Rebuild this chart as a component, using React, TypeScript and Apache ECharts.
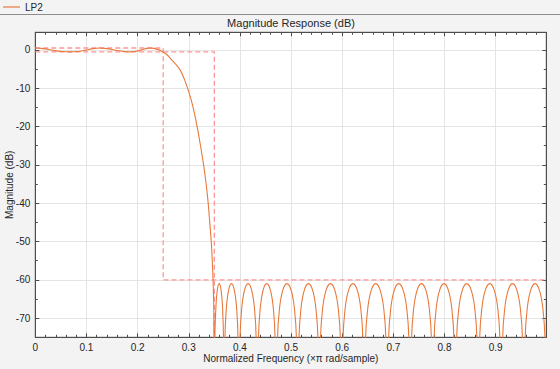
import React, { useEffect, useRef } from "react";
import * as echarts from "echarts";

// Frequency axis tick labels (×π rad/sample)
const xTickLabels = ["0", "0.1", "0.2", "0.3", "0.4", "0.5", "0.6", "0.7", "0.8", "0.9"];
const yTickLabels = ["-70", "-60", "-50", "-40", "-30", "-20", "-10", "0"];

// Magnitude response of LP2 (dB)
const passbandResponse: [number, number][] = [
  [0, 0.5], [0.015, 0.35], [0.035, -0.1], [0.052, -0.4], [0.067, -0.5], [0.082, -0.4],
  [0.098, -0.05], [0.113, 0.35], [0.126, 0.5], [0.14, 0.35], [0.155, 0], [0.172, -0.4],
  [0.185, -0.5], [0.197, -0.35], [0.21, 0.1], [0.218, 0.4], [0.225, 0.5], [0.232, 0.4],
  [0.24, 0.1], [0.245, -0.15],
];
const transitionResponse: [number, number][] = [
  [0.25, -0.6], [0.257, -1.2], [0.264, -2.2], [0.272, -3.4], [0.283, -5.2], [0.293, -8.2],
  [0.303, -12.2], [0.311, -16.5], [0.317, -20.5], [0.323, -25], [0.329, -30], [0.334, -35],
  [0.338, -40], [0.341, -45], [0.344, -50], [0.346, -55], [0.3475, -60], [0.349, -68],
];
const stopbandResponse: [number, number][] = [
  [0.350, -120], [0.3511, -75.5], [0.3529, -67.6], [0.3557, -62.8], [0.3595, -61], [0.3633, -62.8], [0.3662, -67.6], [0.3679, -75.5],
  [0.369, -120], [0.3707, -75.5], [0.3734, -67.6], [0.3777, -62.8], [0.3835, -61], [0.3893, -62.8], [0.3937, -67.6], [0.3963, -75.5],
  [0.398, -120], [0.4002, -75.5], [0.4034, -67.6], [0.4088, -62.8], [0.416, -61], [0.4232, -62.8], [0.4286, -67.6], [0.4318, -75.5],
  [0.434, -120], [0.4362, -75.5], [0.4396, -67.6], [0.4451, -62.8], [0.4525, -61], [0.4599, -62.8], [0.4655, -67.6], [0.4688, -75.5],
  [0.471, -120], [0.4735, -75.5], [0.4773, -67.6], [0.4836, -62.8], [0.492, -61], [0.5004, -62.8], [0.5067, -67.6], [0.5105, -75.5],
  [0.513, -120], [0.5155, -75.5], [0.5193, -67.6], [0.5256, -62.8], [0.534, -61], [0.5424, -62.8], [0.5487, -67.6], [0.5525, -75.5],
  [0.555, -120], [0.5576, -75.5], [0.5616, -67.6], [0.5682, -62.8], [0.577, -61], [0.5858, -62.8], [0.5924, -67.6], [0.5964, -75.5],
  [0.599, -120], [0.6016, -75.5], [0.6056, -67.6], [0.6122, -62.8], [0.621, -61], [0.6298, -62.8], [0.6364, -67.6], [0.6404, -75.5],
  [0.643, -120], [0.6457, -75.5], [0.6498, -67.6], [0.6565, -62.8], [0.6655, -61], [0.6745, -62.8], [0.6813, -67.6], [0.6853, -75.5],
  [0.688, -120], [0.6907, -75.5], [0.6948, -67.6], [0.7015, -62.8], [0.7105, -61], [0.7195, -62.8], [0.7263, -67.6], [0.7303, -75.5],
  [0.733, -120], [0.7356, -75.5], [0.7396, -67.6], [0.7462, -62.8], [0.755, -61], [0.7638, -62.8], [0.7704, -67.6], [0.7744, -75.5],
  [0.777, -120], [0.7796, -75.5], [0.7836, -67.6], [0.7902, -62.8], [0.799, -61], [0.8078, -62.8], [0.8144, -67.6], [0.8184, -75.5],
  [0.821, -120], [0.8237, -75.5], [0.8278, -67.6], [0.8345, -62.8], [0.8435, -61], [0.8525, -62.8], [0.8593, -67.6], [0.8633, -75.5],
  [0.866, -120], [0.8687, -75.5], [0.8728, -67.6], [0.8795, -62.8], [0.8885, -61], [0.8975, -62.8], [0.9043, -67.6], [0.9083, -75.5],
  [0.911, -120], [0.9136, -75.5], [0.9176, -67.6], [0.9242, -62.8], [0.933, -61], [0.9418, -62.8], [0.9484, -67.6], [0.9524, -75.5],
  [0.955, -120], [0.9576, -75.5], [0.9616, -67.6], [0.9682, -62.8], [0.977, -61], [0.9858, -62.8], [0.9924, -67.6], [0.9964, -75.5],
  [0.999, -120],
];

// Specification mask (dashed)
const maskUpper: [number, number][] = [[0, 0.5], [0.25, 0.5], [0.25, -60], [0.999, -60]];
const maskLower: [number, number][] = [[0, -0.5], [0.35, -0.5], [0.35, -75]];

const X_MIN = 0;
const X_MAX = 0.999;
const Y_MIN = -75;
const Y_MAX = 4.6;

const FONT = "Liberation Sans, Arial, Helvetica, sans-serif";
const TEXT = "#262626";
const AXIS = "#4d4d4d";

export default function App() {
  const ref = useRef<HTMLDivElement>(null);

  useEffect(() => {
    document.body.style.margin = "0";
    if (!ref.current) return;
    const chart = echarts.init(ref.current, undefined, { renderer: "svg" });

    const response = [...passbandResponse, ...transitionResponse, ...stopbandResponse];
    const xFmt = (v: number) => {
      const s = (Math.round(v * 10) / 10).toString();
      return Math.abs(v * 10 - Math.round(v * 10)) < 1e-6 && xTickLabels.includes(s) ? s : "";
    };
    const yFmt = (v: number) => {
      const s = String(Math.round(v));
      return Math.abs(v - Math.round(v)) < 1e-6 && yTickLabels.includes(s) ? s : "";
    };

    const baseX = {
      type: "value",
      min: X_MIN,
      max: X_MAX,
      interval: 0.1,
    };
    const baseY = {
      type: "value",
      min: Y_MIN,
      max: Y_MAX,
      minInterval: 10,
      maxInterval: 10,
      splitNumber: 8,
    };
    const tickStyle = {
      axisLine: { show: true, onZero: false, lineStyle: { color: AXIS, width: 1 } },
      axisTick: { show: true, inside: true, length: 4, lineStyle: { color: AXIS } },
    };

    chart.setOption({
      animation: false,
      backgroundColor: "#f3f3f3",
      textStyle: { fontFamily: FONT },
      title: {
        text: "Magnitude Response (dB)",
        left: 291,
        textAlign: "center",
        top: 17,
        padding: 0,
        textStyle: { fontFamily: FONT, fontSize: 11, fontWeight: "normal", color: TEXT },
      },
      legend: {
        data: ["LP2"],
        left: 3,
        top: 1,
        padding: 0,
        icon: "rect",
        itemWidth: 17,
        itemHeight: 1.2,
        itemGap: 5,
        textStyle: { fontFamily: FONT, fontSize: 10, color: TEXT, lineHeight: 12 },
      },
      graphic: [
        {
          type: "line",
          shape: { x1: 0, y1: 14.5, x2: 560, y2: 14.5 },
          style: { stroke: "#8c8c8c", lineWidth: 1 },
          silent: true,
        },
      ],
      grid: {
        left: 35.3,
        right: 13.7,
        top: 32.3,
        bottom: 31.7,
        containLabel: false,
        outerBoundsMode: "none",
        show: true,
        backgroundColor: "#ffffff",
        borderColor: AXIS,
        borderWidth: 1,
      },
      xAxis: [
        {
          ...baseX,
          ...tickStyle,
          position: "bottom",
          name: "Normalized Frequency (\u00d7\u03c0 rad/sample)",
          nameLocation: "middle",
          nameGap: 16,
          nameMoveOverlap: false,
          nameTextStyle: { fontFamily: FONT, fontSize: 10, color: TEXT },
          minorTick: { show: true, splitNumber: 5, length: 2.5, lineStyle: { color: AXIS } },
          axisLabel: { formatter: xFmt, fontFamily: FONT, fontSize: 10, color: TEXT, margin: 5, showMaxLabel: false },
          splitLine: { show: true, lineStyle: { color: "#e4e4e4", width: 1 } },
          minorSplitLine: { show: false },
        },
        {
          ...baseX,
          ...tickStyle,
          position: "top",
          minorTick: { show: true, splitNumber: 5, length: 2.5, lineStyle: { color: AXIS } },
          axisLabel: { show: false },
          splitLine: { show: false },
        },
      ],
      yAxis: [
        {
          ...baseY,
          ...tickStyle,
          position: "left",
          name: "Magnitude (dB)",
          nameLocation: "middle",
          nameGap: 21,
          nameMoveOverlap: false,
          nameTextStyle: { fontFamily: FONT, fontSize: 10, color: TEXT },
          minorTick: { show: true, splitNumber: 2, length: 2.5, lineStyle: { color: AXIS } },
          axisLabel: { formatter: yFmt, fontFamily: FONT, fontSize: 10, color: TEXT, margin: 5, showMinLabel: false, showMaxLabel: false },
          splitLine: { show: true, lineStyle: { color: "#e4e4e4", width: 1 } },
        },
        {
          ...baseY,
          ...tickStyle,
          position: "right",
          minorTick: { show: true, splitNumber: 2, length: 2.5, lineStyle: { color: AXIS } },
          axisLabel: { show: false },
          splitLine: { show: false },
        },
      ],
      series: [
        {
          name: "mask-upper",
          type: "line",
          xAxisIndex: 0,
          yAxisIndex: 0,
          data: maskUpper,
          symbol: "none",
          silent: true,
          lineStyle: { color: "#ff8585", width: 1.3, type: [5, 3], opacity: 0.85 },
          z: 3,
        },
        {
          name: "mask-lower",
          type: "line",
          xAxisIndex: 0,
          yAxisIndex: 0,
          data: maskLower,
          symbol: "none",
          silent: true,
          lineStyle: { color: "#ff8585", width: 1.3, type: [5, 3], opacity: 0.85 },
          z: 3,
        },
        {
          name: "LP2",
          type: "line",
          xAxisIndex: 0,
          yAxisIndex: 0,
          data: response,
          symbol: "none",
          smooth: 0.35,
          clip: true,
          color: "#e8793a",
          lineStyle: { color: "#e8793a", width: 1.1 },
          z: 4,
        },
      ],
    });

    return () => chart.dispose();
  }, []);

  return <div ref={ref} style={{ width: 560, height: 369 }} />;
}
